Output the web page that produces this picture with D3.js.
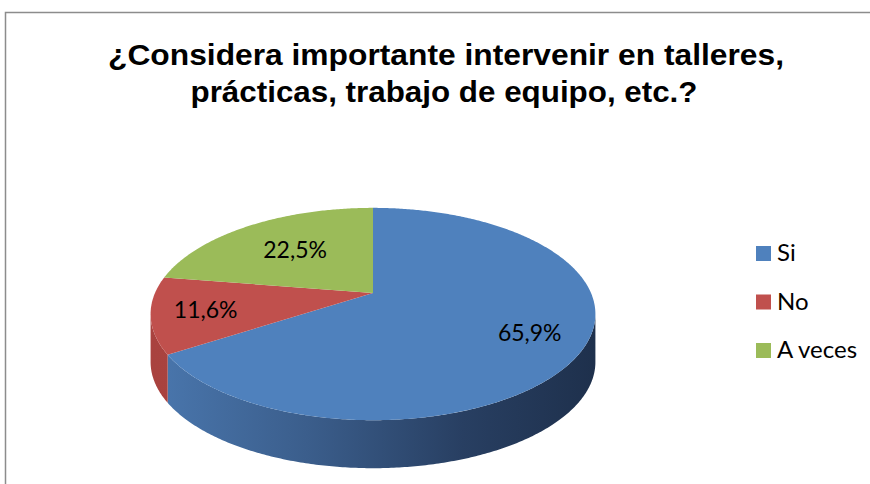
<!DOCTYPE html>
<html>
<head>
<meta charset="utf-8">
<script src="https://cdn.jsdelivr.net/npm/d3@7"></script>
<style>
  body { margin: 0; background: #fff; }
  svg { display: block; }
</style>
</head>
<body>
<script>
// data
var categories = ["Si", "No", "A veces"];
var values = [65.9, 11.6, 22.5];
var colors = ["#4f81bd", "#c0504d", "#9bbb59"];
var titleLines = ["¿Considera importante intervenir en talleres,", "prácticas, trabajo de equipo, etc.?"];

var width = 870, height = 484;

var svg = d3.select("body").append("svg")
    .attr("width", width)
    .attr("height", height);

// chart frame
svg.append("rect")
    .attr("x", 5.5).attr("y", 12.5)
    .attr("width", 900).attr("height", 520)
    .attr("fill", "#fff")
    .attr("stroke", "#8c8c8c")
    .attr("stroke-width", 1.5);

// title (widths)
var titleX = [446, 444], titleW = [676, 507];
titleLines.forEach(function (t, i) {
  svg.append("text")
      .attr("x", titleX[i])
      .attr("y", 65 + i * 36.5)
      .attr("text-anchor", "middle")
      .attr("textLength", titleW[i])
      .attr("lengthAdjust", "spacingAndGlyphs")
      .style("font-family", "'Liberation Sans', Arial, sans-serif")
      .style("font-weight", "bold")
      .style("font-size", "29px")
      .attr("fill", "#000")
      .text(t);
});

// 3d pie geometry (perspective tilted disc)
var cx = 373, cy = 293;   // centre of the disc on screen
var rx = 218, ry = 102;   // horizontal / vertical half axes
var k = 0.198;            // perspective strength
var depth = 48;

function proj(theta, r, dy) {
  var s = Math.sin(theta) * r, c = Math.cos(theta) * r;
  var den = 1 + k * c;
  return [cx + rx * s / den, cy - ry * c / den + (dy || 0)];
}

var pie = d3.pie().sort(null).value(function (d) { return d; });
var arcs = pie(values);

var line = d3.line();

function arcPoints(a0, a1, dy) {
  var n = Math.max(2, Math.ceil(Math.abs(a1 - a0) / 0.01));
  return d3.range(n + 1).map(function (i) {
    return proj(a0 + (a1 - a0) * i / n, 1, dy);
  });
}

// visible front side spans where the outline is tangent
var tangent = Math.acos(-k);
var sideStart = tangent, sideEnd = 2 * Math.PI - tangent;

var defs = svg.append("defs");
var sideGrads = [
  [["0", "#4a77ae"], ["0.35", "#3b5e8c"], ["0.7", "#283f62"], ["1", "#1e304c"]],
  [["0", "#a9423f"], ["1", "#b24a47"]],
  [["0", "#7e9a47"], ["1", "#6d863c"]]
];
sideGrads.forEach(function (stops, i) {
  var g = defs.append("linearGradient")
      .attr("id", "side" + i)
      .attr("gradientUnits", "userSpaceOnUse")
      .attr("x1", cx - rx - 5).attr("x2", cx + rx + 5)
      .attr("y1", 0).attr("y2", 0);
  stops.forEach(function (s) {
    g.append("stop").attr("offset", s[0]).attr("stop-color", s[1]);
  });
});

// sides
arcs.forEach(function (d, i) {
  var a0 = Math.max(d.startAngle, sideStart);
  var a1 = Math.min(d.endAngle, sideEnd);
  if (a1 <= a0) return;
  var top = arcPoints(a0, a1, 0);
  var bottom = arcPoints(a1, a0, depth);
  svg.append("path")
      .attr("d", line(top.concat(bottom)) + "Z")
      .attr("fill", "url(#side" + i + ")");
});

// top faces
arcs.forEach(function (d, i) {
  var pts = [proj(0, 0)].concat(arcPoints(d.startAngle, d.endAngle, 0));
  svg.append("path")
      .attr("d", line(pts) + "Z")
      .attr("fill", colors[i]);
});

// data labels
var labelR = [0.76, 0.76, 0.6];
var fmt = function (v) { return d3.format(".1f")(v).replace(".", ",") + "%"; };
arcs.forEach(function (d, i) {
  var p = proj((d.startAngle + d.endAngle) / 2, labelR[i], 0);
  svg.append("text")
      .attr("x", p[0])
      .attr("y", p[1])
      .attr("dy", "0.35em")
      .attr("text-anchor", "middle")
      .style("font-family", "Lato, sans-serif")
      .style("font-size", "23px")
      .attr("fill", "#000")
      .text(fmt(d.data));
});

// legend
var legend = svg.append("g").attr("transform", "translate(756,246)");
categories.forEach(function (c, i) {
  var row = legend.append("g").attr("transform", "translate(0," + (i * 48.5) + ")");
  row.append("rect")
      .attr("width", 15).attr("height", 15)
      .attr("fill", colors[i]);
  row.append("text")
      .attr("x", 21)
      .attr("y", 15)
      .style("font-family", "Lato, sans-serif")
      .style("font-size", "24px")
      .attr("fill", "#000")
      .text(c);
});
</script>
</body>
</html>
